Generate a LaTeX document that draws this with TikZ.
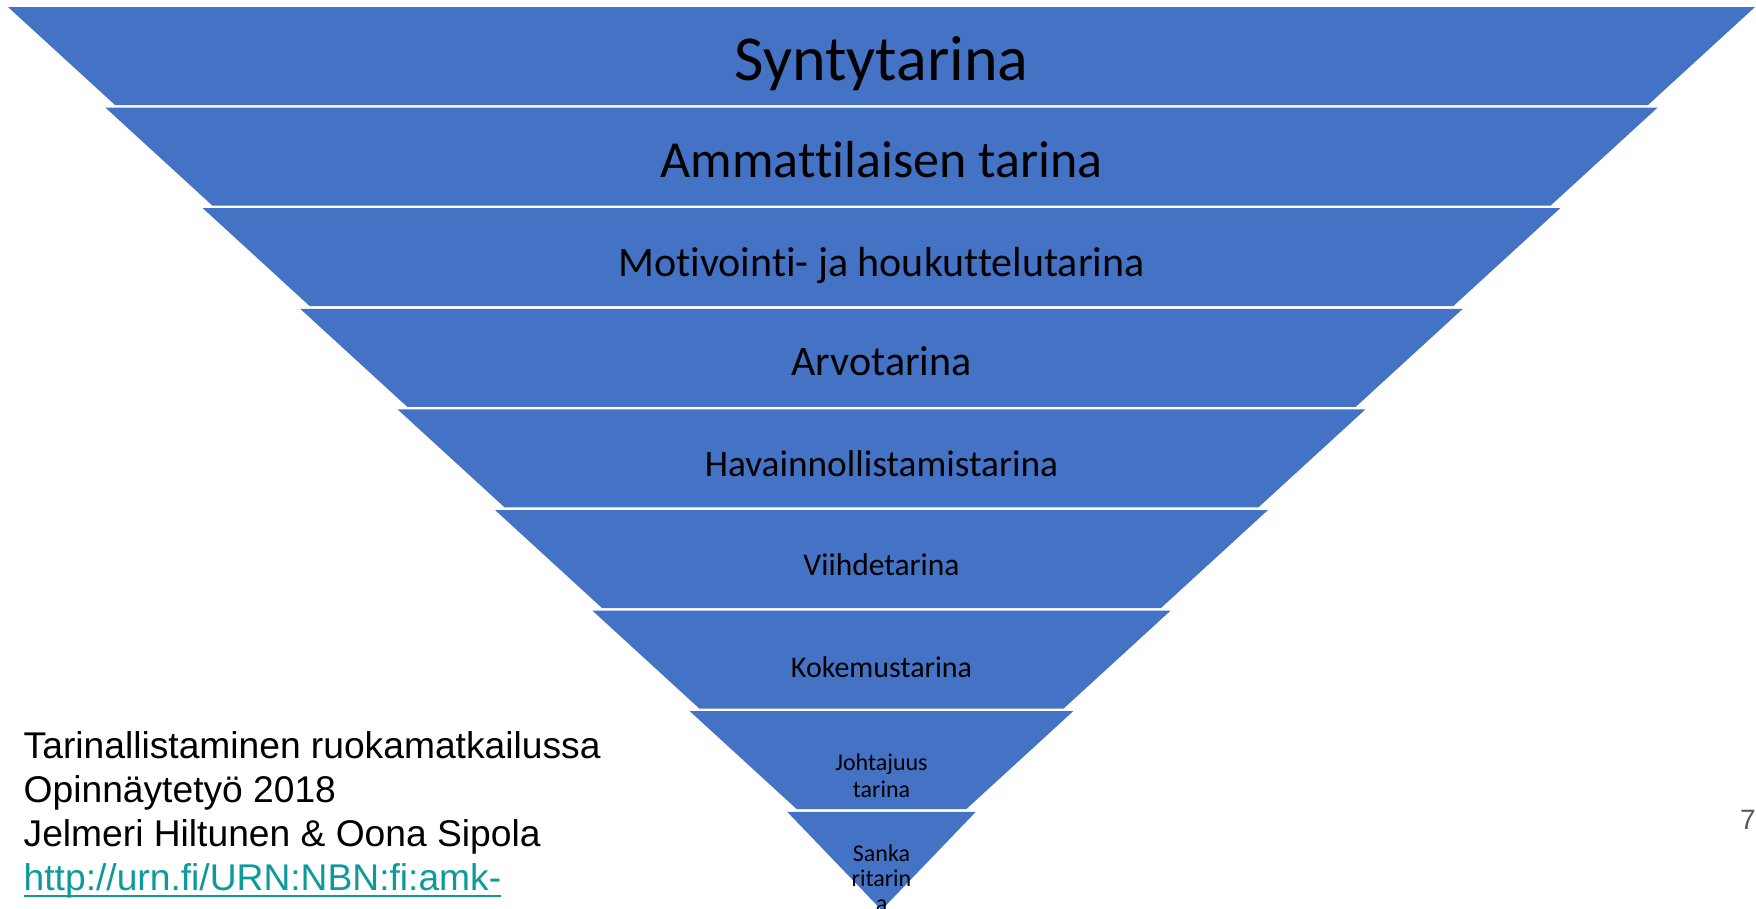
\documentclass[tikz,border=0pt]{standalone}
\usepackage{fontspec}
\setmainfont{Carlito}[Ligatures=NoCommon]
\newfontfamily\notefont{Liberation Sans}
\usepackage{xcolor}
\definecolor{bandblue}{HTML}{4472C4}
\definecolor{linkteal}{HTML}{0E9A9A}
\definecolor{pagegray}{HTML}{595959}
\newsavebox\linkbox
\newcommand\linkline[1]{\sbox\linkbox{#1}\rlap{\usebox\linkbox}\rule[-6pt]{\wd\linkbox}{1.8pt}}

\begin{document}
\begin{tikzpicture}[x=1pt, y=-1pt]
  \tikzstyle{band} = [fill=bandblue]
  \tikzstyle{bandtext} = [inner sep=0pt, anchor=base, text=black]
  \tikzstyle{notetext} = [inner sep=0pt, align=left, anchor=north west, font=\notefont\fontsize{37.2}{44}\selectfont]

  \useasboundingbox (0,0) rectangle (1756,908);
  \clip (0,0) rectangle (1756,908);

  % inverted pyramid, top to bottom
  \path [band] (8,7) -- (1755,7) -- (1648,105) -- (115,105) -- cycle;
  \path [band] (105.4,107.6) -- (1657.6,107.6) -- (1550.6,205.6) -- (212.4,205.6) -- cycle;
  \path [band] (202.8,208.2) -- (1560.2,208.2) -- (1453.2,306.2) -- (309.8,306.2) -- cycle;
  \path [band] (300.2,308.8) -- (1462.8,308.8) -- (1355.8,406.8) -- (407.2,406.8) -- cycle;
  \path [band] (397.6,409.4) -- (1365.4,409.4) -- (1258.4,507.4) -- (504.6,507.4) -- cycle;
  \path [band] (495,510) -- (1268,510) -- (1161,608) -- (602,608) -- cycle;
  \path [band] (592.4,610.6) -- (1170.6,610.6) -- (1063.6,708.6) -- (699.4,708.6) -- cycle;
  \path [band] (689.8,711.2) -- (1073.2,711.2) -- (966.2,809.2) -- (796.8,809.2) -- cycle;
  \path [band] (787.2,811.8) -- (975.8,811.8) -- (881.5,910) -- cycle;

  \node [bandtext, font=\fontsize{64}{76}\selectfont] (synty) at (881.5,80) {Syntytarina};
  \node [bandtext, font=\fontsize{52}{62}\selectfont] (ammatti) at (881.5,177) {Ammattilaisen tarina};
  \node [bandtext, font=\fontsize{42}{50}\selectfont] (motivointi) at (881.5,276) {Motivointi- ja houkuttelutarina};
  \node [bandtext, font=\fontsize{42}{50}\selectfont] (arvo) at (881.5,375) {Arvotarina};
  \node [bandtext, font=\fontsize{37.3}{45}\selectfont] (havainnollistamis) at (881.5,476) {Havainnollistamistarina};
  \node [bandtext, font=\fontsize{31.5}{38}\selectfont] (viihde) at (881.5,575) {Viihdetarina};
  \node [bandtext, font=\fontsize{30}{36}\selectfont] (kokemus) at (881.5,677) {Kokemustarina};
  \node [bandtext, anchor=center, align=center, font=\fontsize{24}{27}\selectfont] (johtajuus) at (881.5,776) {Johtajuus\\tarina};
  \node [bandtext, anchor=center, align=center, font=\fontsize{24}{25}\selectfont] (sankari) at (881.5,878) {Sanka\\ritarin\\a};

  \node [notetext] (lahde) at (23.5,731.5) {Tarinallistaminen ruokamatkailussa\\Opinn\"aytety\"o 2018\\Jelmeri Hiltunen \& Oona Sipola\\\textcolor{linkteal}{\linkline{http://urn.fi/URN:NBN:fi:amk-}}};
  \node [inner sep=0pt, anchor=base west, text=pagegray, font=\notefont\fontsize{28}{34}\selectfont] (sivu) at (1740,829) {7};
\end{tikzpicture}
\end{document}
